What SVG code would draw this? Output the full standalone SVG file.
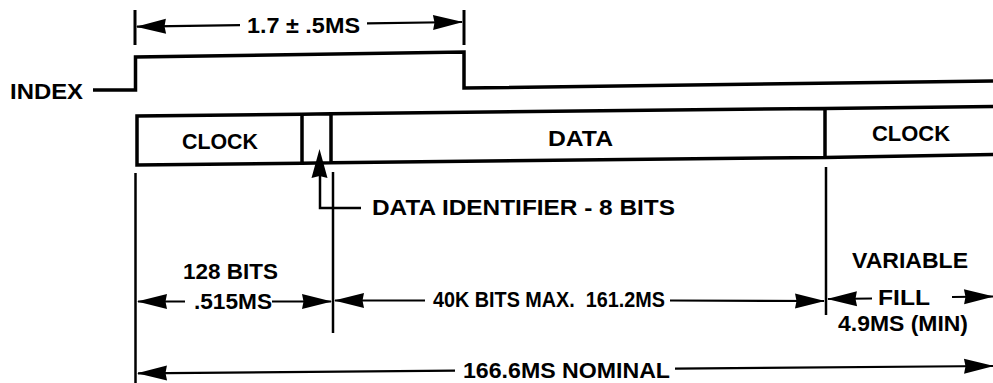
<svg xmlns="http://www.w3.org/2000/svg" width="993" height="383" viewBox="0 0 993 383">
<style>
text{font-family:"Liberation Sans",Arial,Helvetica,sans-serif;font-weight:bold;font-size:22.5px;fill:#000}
.sig{fill:none;stroke:#000;stroke-width:3.5;stroke-linejoin:miter}
.box{fill:none;stroke:#000;stroke-width:3.5}
.ext{stroke:#000;stroke-width:2.5}
.dim{stroke:#000;stroke-width:2.2;marker-end:url(#ah)}
</style>
<defs>
<marker id="ah" viewBox="-32 -10 33 20" refX="0" refY="0" markerWidth="33" markerHeight="20" markerUnits="userSpaceOnUse" orient="auto"><path d="M1,0 L-29,-7.5 L-27.5,0 L-29,7.5 Z" fill="#000"/></marker>
</defs>
<rect width="993" height="383" fill="#fff"/>

<g id="index">
<text x="10" y="99" textLength="73" lengthAdjust="spacingAndGlyphs">INDEX</text>
<polyline class="sig" points="93,90 135.5,90 135.5,57 464,52 464,88 993,81"/>
</g>

<g id="clock1">
<path class="box" d="M302,114.2 L137,116 L137,165 L302,163.2"/>
<text x="182" y="148.5" textLength="76" lengthAdjust="spacingAndGlyphs">CLOCK</text>
</g>
<g id="data-id">
<path class="box" d="M302,114.2 L331,113.8 M302,163.2 L331,162.8 M302,114.2 L302,163.2 M331,113.8 L331,162.8"/>
</g>
<g id="data">
<path class="box" d="M331,113.8 L825,108.4 M331,162.8 L825,157.4 M825,108.4 L825,157.4"/>
<text x="548" y="145.5" textLength="65" lengthAdjust="spacingAndGlyphs">DATA</text>
</g>
<g id="clock2">
<path class="box" d="M825,108.4 L995,106.5 M825,157.4 L995,154.5"/>
<text x="872" y="140.5" textLength="78" lengthAdjust="spacingAndGlyphs">CLOCK</text>
</g>

<g id="labels">
<text x="247" y="33" textLength="113" lengthAdjust="spacingAndGlyphs">1.7 ± .5MS</text>
<text x="372" y="214.5" textLength="303" lengthAdjust="spacingAndGlyphs">DATA IDENTIFIER - 8 BITS</text>
<text x="183" y="279" textLength="95" lengthAdjust="spacingAndGlyphs">128 BITS</text>
<text x="194" y="308.5" textLength="78" lengthAdjust="spacingAndGlyphs">.515MS</text>
<text x="433" y="307" textLength="232" lengthAdjust="spacingAndGlyphs">40K BITS MAX.&#160; 161.2MS</text>
<text x="852" y="268" textLength="116" lengthAdjust="spacingAndGlyphs">VARIABLE</text>
<text x="878" y="305" textLength="52" lengthAdjust="spacingAndGlyphs">FILL</text>
<text x="838" y="331" textLength="130" lengthAdjust="spacingAndGlyphs">4.9MS (MIN)</text>
<text x="463" y="378" textLength="207" lengthAdjust="spacingAndGlyphs" style="font-size:21.5px">166.6MS NOMINAL</text>
</g>

<g id="connectors">
<line class="ext" x1="135" y1="10" x2="135" y2="45" style="stroke-width:3"/>
<line class="ext" x1="464" y1="10" x2="464" y2="45" style="stroke-width:3"/>
<line class="dim" x1="240" y1="25.2" x2="137" y2="26.7"/>
<line class="dim" x1="367" y1="23.4" x2="462" y2="22"/>

<line class="ext" x1="135.5" y1="173" x2="135.5" y2="383"/>
<line class="ext" x1="333" y1="172" x2="333" y2="333"/>
<line class="ext" x1="826" y1="167" x2="826" y2="315"/>

<path d="M361,208 L320,208 L320,176" fill="none" stroke="#000" stroke-width="2.5"/>
<path d="M319.5,149 L311.5,178 L319.5,176 L327.5,178 Z" fill="#000"/>

<line class="dim" x1="185" y1="301.5" x2="138" y2="301.5"/>
<line class="dim" x1="272" y1="301.5" x2="331" y2="301.5"/>
<line class="dim" x1="425" y1="300.5" x2="335" y2="300.5"/>
<line class="dim" x1="670" y1="300.5" x2="824" y2="301"/>
<line class="dim" x1="872" y1="298.5" x2="828" y2="299"/>
<line class="dim" x1="952" y1="297" x2="993" y2="296.5"/>
<line class="dim" x1="455" y1="370.6" x2="138" y2="373.3"/>
<line class="dim" x1="675" y1="368.7" x2="993" y2="366"/>
</g>
</svg>
